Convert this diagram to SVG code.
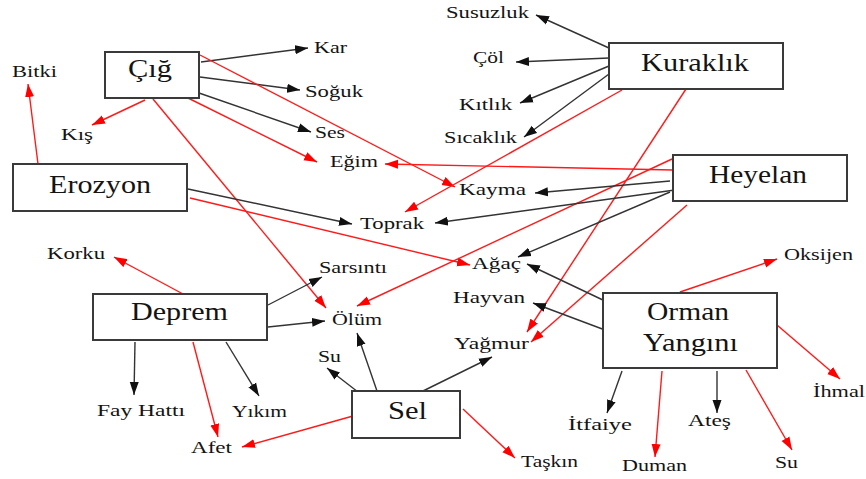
<svg xmlns="http://www.w3.org/2000/svg" width="866" height="479" viewBox="0 0 866 479">
<style>
.box{fill:#fff;stroke:#3a3a3a;stroke-width:2}
.t{font-family:"Liberation Serif","Times New Roman",serif;fill:#141414}
.lb{font-size:17px}
.bt{font-size:25px}
.k{stroke:#333;stroke-width:1.4;fill:none;marker-end:url(#ak)}
.r{stroke:#ff1a1a;stroke-width:1.4;fill:none;marker-end:url(#ar)}
</style>
<defs>
<marker id="ak" markerUnits="userSpaceOnUse" markerWidth="14" markerHeight="10" refX="13" refY="5" orient="auto"><path d="M0,0.5 L13,5 L0,9.5 z" fill="#111"/></marker>
<marker id="ar" markerUnits="userSpaceOnUse" markerWidth="14" markerHeight="10" refX="13" refY="5" orient="auto"><path d="M0,0.5 L13,5 L0,9.5 z" fill="#ff0000"/></marker>
</defs>
<rect width="866" height="479" fill="#fff"/>
<g id="connectors">
<line class="k" x1="201" y1="62" x2="308" y2="48"/>
<line class="k" x1="200" y1="77" x2="300" y2="90"/>
<line class="k" x1="199" y1="93" x2="311" y2="132"/>
<line class="r" x1="188" y1="98" x2="317" y2="162"/>
<line class="r" x1="200" y1="55" x2="455" y2="187"/>
<line class="r" x1="145" y1="100" x2="92" y2="125"/>
<line class="r" x1="153" y1="99" x2="326" y2="308"/>
<line class="r" x1="38" y1="164" x2="28" y2="84"/>
<line class="k" x1="188" y1="189" x2="352" y2="224"/>
<line class="r" x1="190" y1="198" x2="470" y2="265"/>
<line class="k" x1="609" y1="48" x2="536" y2="15"/>
<line class="k" x1="609" y1="58" x2="516" y2="62"/>
<line class="k" x1="609" y1="66" x2="520" y2="103"/>
<line class="k" x1="609" y1="74" x2="524" y2="137"/>
<line class="r" x1="622" y1="90" x2="405" y2="212"/>
<line class="r" x1="686" y1="89" x2="527" y2="332"/>
<line class="r" x1="673" y1="170" x2="385" y2="164"/>
<line class="r" x1="672" y1="159" x2="357" y2="306"/>
<line class="k" x1="670" y1="181" x2="535" y2="193"/>
<line class="k" x1="675" y1="190" x2="435" y2="223"/>
<line class="k" x1="670" y1="192" x2="518" y2="257"/>
<line class="r" x1="687" y1="205" x2="531" y2="342"/>
<line class="k" x1="605" y1="301" x2="527" y2="264"/>
<line class="k" x1="605" y1="330" x2="533" y2="303"/>
<line class="r" x1="680" y1="292" x2="777" y2="259"/>
<line class="r" x1="777" y1="325" x2="840" y2="379"/>
<line class="k" x1="622" y1="371" x2="607" y2="413"/>
<line class="r" x1="662" y1="371" x2="655" y2="457"/>
<line class="k" x1="717" y1="371" x2="717" y2="413"/>
<line class="r" x1="746" y1="370" x2="792" y2="450"/>
<line class="r" x1="183" y1="294" x2="114" y2="257"/>
<line class="k" x1="268" y1="305" x2="322" y2="277"/>
<line class="k" x1="268" y1="327" x2="325" y2="321"/>
<line class="k" x1="135" y1="342" x2="134" y2="395"/>
<line class="k" x1="226" y1="342" x2="259" y2="396"/>
<line class="r" x1="193" y1="342" x2="218" y2="437"/>
<line class="r" x1="353" y1="416" x2="242" y2="447"/>
<line class="k" x1="358" y1="392" x2="327" y2="368"/>
<line class="k" x1="377" y1="391" x2="357" y2="333"/>
<line class="k" x1="423" y1="391" x2="492" y2="357"/>
<line class="r" x1="463" y1="409" x2="515" y2="458"/>
</g>
<g id="n-cig"><rect class="box" x="105" y="52" width="94" height="46"/><text class="t bt" x="128" y="77" textLength="44" lengthAdjust="spacingAndGlyphs">Çığ</text></g>
<g id="n-kuraklik"><rect class="box" x="609" y="43" width="174" height="46"/><text class="t bt" x="641" y="71" textLength="108" lengthAdjust="spacingAndGlyphs">Kuraklık</text></g>
<g id="n-heyelan"><rect class="box" x="673" y="155" width="174" height="46"/><text class="t bt" x="709" y="183" textLength="98" lengthAdjust="spacingAndGlyphs">Heyelan</text></g>
<g id="n-erozyon"><rect class="box" x="13" y="164" width="174" height="47"/><text class="t bt" x="49" y="193" textLength="102" lengthAdjust="spacingAndGlyphs">Erozyon</text></g>
<g id="n-deprem"><rect class="box" x="93" y="294" width="174" height="46"/><text class="t bt" x="131" y="320" textLength="97" lengthAdjust="spacingAndGlyphs">Deprem</text></g>
<g id="n-sel"><rect class="box" x="352" y="391" width="108" height="47"/><text class="t bt" x="388" y="419" textLength="39" lengthAdjust="spacingAndGlyphs">Sel</text></g>
<g id="n-orman"><rect class="box" x="603" y="293" width="174" height="75"/><text class="t bt" x="647" y="320" textLength="82" lengthAdjust="spacingAndGlyphs">Orman</text><text class="t bt" x="643" y="351" textLength="95" lengthAdjust="spacingAndGlyphs">Yangını</text></g>
<g id="l-bitki"><text class="t lb" x="12" y="77" textLength="45" lengthAdjust="spacingAndGlyphs">Bitki</text></g>
<g id="l-kis"><text class="t lb" x="61" y="140" textLength="32" lengthAdjust="spacingAndGlyphs">Kış</text></g>
<g id="l-kar"><text class="t lb" x="314" y="53" textLength="33" lengthAdjust="spacingAndGlyphs">Kar</text></g>
<g id="l-soguk"><text class="t lb" x="305" y="97" textLength="58" lengthAdjust="spacingAndGlyphs">Soğuk</text></g>
<g id="l-ses"><text class="t lb" x="315" y="138" textLength="30" lengthAdjust="spacingAndGlyphs">Ses</text></g>
<g id="l-egim"><text class="t lb" x="330" y="167" textLength="48" lengthAdjust="spacingAndGlyphs">Eğim</text></g>
<g id="l-susuzluk"><text class="t lb" x="446" y="18" textLength="83" lengthAdjust="spacingAndGlyphs">Susuzluk</text></g>
<g id="l-col"><text class="t lb" x="473" y="63" textLength="31" lengthAdjust="spacingAndGlyphs">Çöl</text></g>
<g id="l-kitlik"><text class="t lb" x="459" y="110" textLength="53" lengthAdjust="spacingAndGlyphs">Kıtlık</text></g>
<g id="l-sicaklik"><text class="t lb" x="444" y="143" textLength="73" lengthAdjust="spacingAndGlyphs">Sıcaklık</text></g>
<g id="l-kayma"><text class="t lb" x="459" y="195" textLength="67" lengthAdjust="spacingAndGlyphs">Kayma</text></g>
<g id="l-toprak"><text class="t lb" x="360" y="229" textLength="64" lengthAdjust="spacingAndGlyphs">Toprak</text></g>
<g id="l-agac"><text class="t lb" x="472" y="269" textLength="49" lengthAdjust="spacingAndGlyphs">Ağaç</text></g>
<g id="l-sarsinti"><text class="t lb" x="319" y="273" textLength="68" lengthAdjust="spacingAndGlyphs">Sarsıntı</text></g>
<g id="l-hayvan"><text class="t lb" x="453" y="303" textLength="72" lengthAdjust="spacingAndGlyphs">Hayvan</text></g>
<g id="l-olum"><text class="t lb" x="332" y="325" textLength="50" lengthAdjust="spacingAndGlyphs">Ölüm</text></g>
<g id="l-korku"><text class="t lb" x="47" y="259" textLength="58" lengthAdjust="spacingAndGlyphs">Korku</text></g>
<g id="l-yagmur"><text class="t lb" x="454" y="349" textLength="75" lengthAdjust="spacingAndGlyphs">Yağmur</text></g>
<g id="l-su1"><text class="t lb" x="318" y="362" textLength="23" lengthAdjust="spacingAndGlyphs">Su</text></g>
<g id="l-fay"><text class="t lb" x="97" y="416" textLength="88" lengthAdjust="spacingAndGlyphs">Fay Hattı</text></g>
<g id="l-yikim"><text class="t lb" x="232" y="417" textLength="55" lengthAdjust="spacingAndGlyphs">Yıkım</text></g>
<g id="l-afet"><text class="t lb" x="191" y="453" textLength="41" lengthAdjust="spacingAndGlyphs">Afet</text></g>
<g id="l-taskin"><text class="t lb" x="521" y="467" textLength="57" lengthAdjust="spacingAndGlyphs">Taşkın</text></g>
<g id="l-itfaiye"><text class="t lb" x="568" y="430" textLength="64" lengthAdjust="spacingAndGlyphs">İtfaiye</text></g>
<g id="l-oksijen"><text class="t lb" x="784" y="260" textLength="69" lengthAdjust="spacingAndGlyphs">Oksijen</text></g>
<g id="l-ihmal"><text class="t lb" x="813" y="397" textLength="52" lengthAdjust="spacingAndGlyphs">İhmal</text></g>
<g id="l-ates"><text class="t lb" x="688" y="426" textLength="43" lengthAdjust="spacingAndGlyphs">Ateş</text></g>
<g id="l-duman"><text class="t lb" x="622" y="471" textLength="65" lengthAdjust="spacingAndGlyphs">Duman</text></g>
<g id="l-su2"><text class="t lb" x="775" y="468" textLength="23" lengthAdjust="spacingAndGlyphs">Su</text></g>
</svg>
